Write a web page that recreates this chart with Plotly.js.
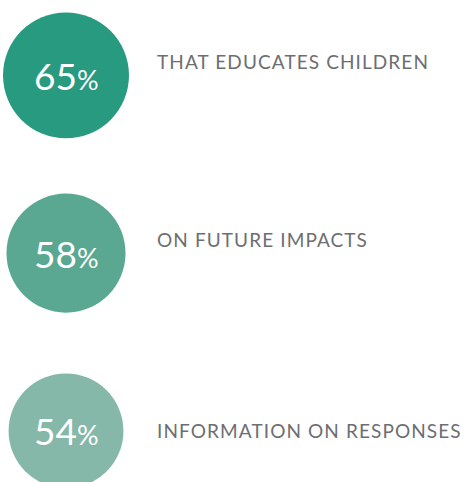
<!DOCTYPE html>
<html>
<head>
<meta charset="utf-8">
<script src="https://cdn.plot.ly/plotly-3.0.1.min.js"></script>
<style>html,body{margin:0;padding:0;background:#fff;}#chart{width:469px;height:482px;}</style>
</head>
<body>
<div id="chart"></div>
<script>
// Data
const categories = ['THAT EDUCATES CHILDREN', 'ON FUTURE IMPACTS', 'INFORMATION ON RESPONSES'];
const values = [65, 58, 54];

// Styles
const circleColors = ['#289a80', '#5aa892', '#85b8a8'];
const labelShiftsUp = [14, 14, 0];
const fontFamily = 'Lato, "Open Sans", sans-serif';

const trace = {
  type: 'scatter',
  mode: 'markers',
  x: categories.map(() => 0),
  y: categories,
  marker: {
    size: values,
    sizemode: 'area',
    sizeref: 0.00819,
    color: circleColors,
    line: {width: 0},
    opacity: 1
  },
  hoverinfo: 'skip',
  cliponaxis: false,
  showlegend: false
};

const annotations = [];
categories.forEach((c, i) => {
  annotations.push({
    x: 0, y: c, xref: 'x', yref: 'y',
    text: values[i] + '<span style="font-size:27px">%</span>',
    showarrow: false, xanchor: 'center', yanchor: 'middle',
    font: {family: fontFamily, size: 37, color: '#ffffff'}
  });
  annotations.push({
    x: 89, y: c, xref: 'x', yref: 'y',
    text: '<span style="letter-spacing:1.1px">' + c + '</span>',
    showarrow: false, xanchor: 'left', yanchor: 'middle',
    yshift: labelShiftsUp[i],
    font: {family: fontFamily, size: 19, color: '#6d6e71'}
  });
});

const layout = {
  width: 469, height: 482,
  margin: {l: 0, r: 0, t: 0, b: 0, pad: 0},
  paper_bgcolor: '#ffffff', plot_bgcolor: '#ffffff',
  xaxis: {range: [-66, 403], visible: false, fixedrange: true},
  yaxis: {type: 'category', categoryorder: 'array', categoryarray: categories,
          range: [2.2875, -0.424], visible: false, fixedrange: true},
  annotations: annotations,
  showlegend: false
};

Plotly.newPlot('chart', [trace], layout, {displayModeBar: false, staticPlot: true});
</script>
</body>
</html>
